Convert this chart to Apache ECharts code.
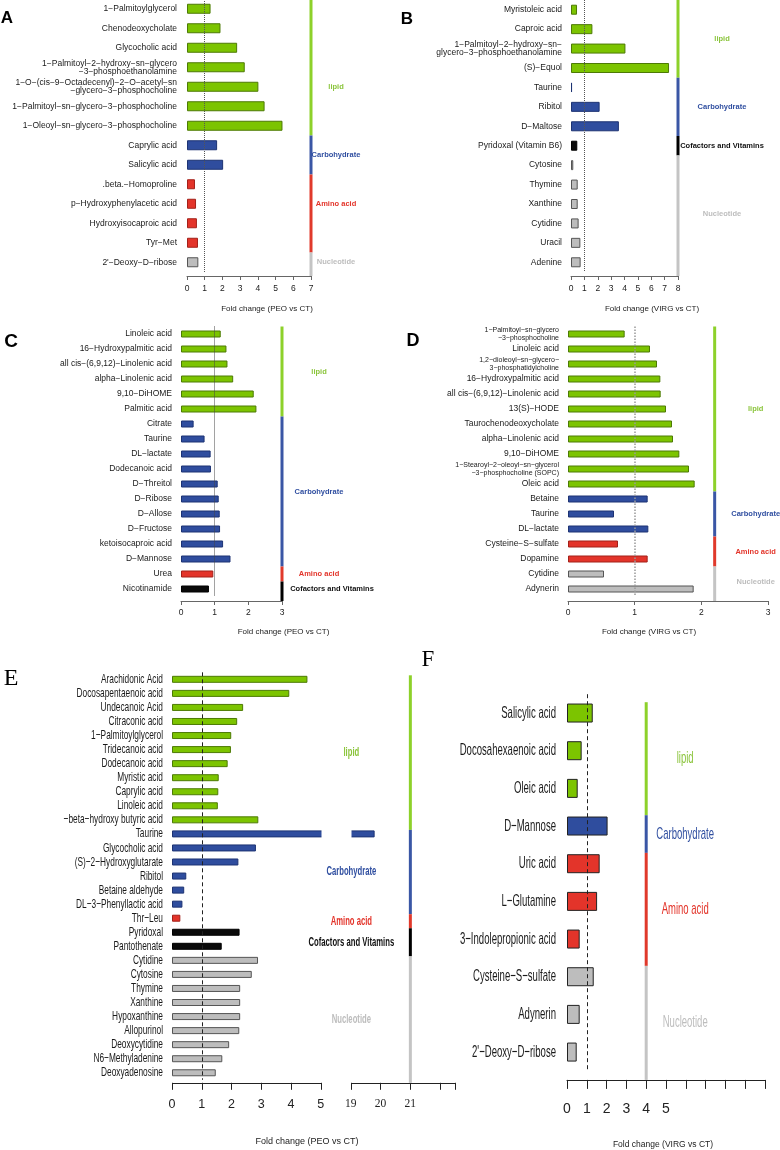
<!DOCTYPE html>
<html>
<head>
<meta charset="utf-8">
<script src="https://cdn.jsdelivr.net/npm/echarts@6/dist/echarts.min.js"></script>
<style>
  html, body { margin: 0; padding: 0; background: #fff; }
  #chart { width: 780px; height: 1150px; }
</style>
</head>
<body>
<div id="chart"></div>
<script>
const SANS = '"Liberation Sans", Arial, sans-serif'
const SERIF = '"Liberation Serif", "Times New Roman", serif'

// ---- data (fold change values) ----
const catA = ['1−Palmitoylglycerol', 'Chenodeoxycholate', 'Glycocholic acid',
  '1−Palmitoyl−2−hydroxy−sn−glycero\n−3−phosphoethanolamine',
  '1−O−(cis−9−Octadecenyl)−2−O−acetyl−sn\n−glycero−3−phosphocholine',
  '1−Palmitoyl−sn−glycero−3−phosphocholine', '1−Oleoyl−sn−glycero−3−phosphocholine',
  'Caprylic acid', 'Salicylic acid', '.beta.−Homoproline', 'p−Hydroxyphenylacetic acid',
  'Hydroxyisocaproic acid', 'Tyr−Met', '2\'−Deoxy−D−ribose']
const valA = [1.33, 1.89, 2.83, 3.26, 4.03, 4.38, 5.39, 1.70, 2.04, 0.45, 0.51, 0.56, 0.62, 0.64]
const grpA = ['L', 'L', 'L', 'L', 'L', 'L', 'L', 'C', 'C', 'A', 'A', 'A', 'A', 'N']

const catB = ['Myristoleic acid', 'Caproic acid', '1−Palmitoyl−2−hydroxy−sn−\nglycero−3−phosphoethanolamine',
  '(S)−Equol', 'Taurine', 'Ribitol', 'D−Maltose', 'Pyridoxal (Vitamin B6)', 'Cytosine',
  'Thymine', 'Xanthine', 'Cytidine', 'Uracil', 'Adenine']
const valB = [0.45, 1.6, 4.07, 7.33, 0.08, 2.14, 3.58, 0.47, 0.17, 0.5, 0.5, 0.57, 0.7, 0.72]
const grpB = ['L', 'L', 'L', 'L', 'C', 'C', 'C', 'V', 'N', 'N', 'N', 'N', 'N', 'N']

const catC = ['Linoleic acid', '16−Hydroxypalmitic acid', 'all cis−(6,9,12)−Linolenic acid',
  'alpha−Linolenic acid', '9,10−DiHOME', 'Palmitic acid', 'Citrate', 'Taurine', 'DL−lactate',
  'Dodecanoic acid', 'D−Threitol', 'D−Ribose', 'D−Allose', 'D−Fructose', 'ketoisocaproic acid',
  'D−Mannose', 'Urea', 'Nicotinamide']
const valC = [1.18, 1.35, 1.38, 1.55, 2.16, 2.24, 0.375, 0.7, 0.88, 0.89, 1.09, 1.12, 1.15, 1.16, 1.25, 1.47, 0.96, 0.83]
const grpC = ['L', 'L', 'L', 'L', 'L', 'L', 'C', 'C', 'C', 'C', 'C', 'C', 'C', 'C', 'C', 'C', 'A', 'V']

const catD = ['1−Palmitoyl−sn−glycero\n−3−phosphocholine', 'Linoleic acid',
  '1,2−dioleoyl−sn−glycero−\n3−phosphatidylcholine', '16−Hydroxypalmitic acid',
  'all cis−(6,9,12)−Linolenic acid', '13(S)−HODE', 'Taurochenodeoxycholate', 'alpha−Linolenic acid',
  '9,10−DiHOME', '1−Stearoyl−2−oleoyl−sn−glycerol\n−3−phosphocholine (SOPC)', 'Oleic acid',
  'Betaine', 'Taurine', 'DL−lactate', 'Cysteine−S−sulfate', 'Dopamine', 'Cytidine', 'Adynerin']
const valD = [0.85, 1.23, 1.335, 1.385, 1.39, 1.47, 1.56, 1.575, 1.67, 1.815, 1.9, 1.195, 0.69, 1.205, 0.75, 1.195, 0.54, 1.885]
const grpD = ['L', 'L', 'L', 'L', 'L', 'L', 'L', 'L', 'L', 'L', 'L', 'C', 'C', 'C', 'A', 'A', 'N', 'N']

const catE = ['Arachidonic Acid', 'Docosapentaenoic acid', 'Undecanoic Acid', 'Citraconic acid',
  '1−Palmitoylglycerol', 'Tridecanoic acid', 'Dodecanoic acid', 'Myristic acid', 'Caprylic acid',
  'Linoleic acid', '−beta−hydroxy butyric acid', 'Taurine', 'Glycocholic acid',
  '(S)−2−Hydroxyglutarate', 'Ribitol', 'Betaine aldehyde', 'DL−3−Phenyllactic acid', 'Thr−Leu',
  'Pyridoxal', 'Pantothenate', 'Cytidine', 'Cytosine', 'Thymine', 'Xanthine', 'Hypoxanthine',
  'Allopurinol', 'Deoxycytidine', 'N6−Methyladenine', 'Deoxyadenosine']
const valE = [4.55, 3.94, 2.39, 2.19, 1.99, 1.98, 1.87, 1.57, 1.555, 1.54, 2.9, 19.8, 2.82, 2.23,
  0.48, 0.41, 0.35, 0.28, 2.27, 1.67, 2.89, 2.68, 2.29, 2.29, 2.29, 2.26, 1.92, 1.69, 1.47]
const grpE = ['L', 'L', 'L', 'L', 'L', 'L', 'L', 'L', 'L', 'L', 'L', 'C', 'C', 'C', 'C', 'C', 'C',
  'A', 'V', 'V', 'N', 'N', 'N', 'N', 'N', 'N', 'N', 'N', 'N']

const catF = ['Salicylic acid', 'Docosahexaenoic acid', 'Oleic acid', 'D−Mannose', 'Uric acid',
  'L−Glutamine', '3−Indolepropionic acid', 'Cysteine−S−sulfate', 'Adynerin', '2\'−Deoxy−D−ribose']
const valF = [1.3, 0.74, 0.54, 2.05, 1.65, 1.52, 0.64, 1.35, 0.64, 0.49]
const grpF = ['L', 'L', 'L', 'C', 'A', 'A', 'A', 'N', 'N', 'N']

// class colours
const GC = {
  L: { name: 'lipid', bar: '#7cc400', edge: '#4d7a05', line: '#8dd12a', text: '#8ac43a' },
  C: { name: 'Carbohydrate', bar: '#2f4d9e', edge: '#1d3373', line: '#3a56a5', text: '#2f4ea0' },
  A: { name: 'Amino acid', bar: '#e3342a', edge: '#a32019', line: '#e0392b', text: '#e3342a' },
  V: { name: 'Cofactors and Vitamins', bar: '#0a0a0a', edge: '#000', line: '#000', text: '#111' },
  N: { name: 'Nucleotide', bar: '#bdbdbd', edge: '#555', line: '#c4c4c4', text: '#bdbdbd' }
}

const small = { s: { fontSize: 7, lineHeight: 8, fontFamily: SANS, color: '#1a1a1a' } }

// E and F use tall condensed lettering: drawn as horizontally squeezed text (sx)
const panels = [
  { cats: catA, vals: valA, grps: grpA, title: 'Fold change (PEO vs CT)',
    grid: [187, -1, 124, 273], max: 7, gx: 7, barW: 10, off: 4,
    tick: { size: 8.5, len: 4, margin: 8, color: '#666' },
    cat: { size: 8.5, lh: 8, margin: 10 },
    ref: { type: 'dotted', color: '#555', width: 1 },
    grpFont: 'bold 7.5px ' + SANS, labelDx: 25, shift: 0, labelRow: { L: 4, A: 10 },
    name: { gap: 29, pad: [0, 0, 0, 36], size: 8 } },
  { cats: catB, vals: valB, grps: grpB, title: 'Fold change (VIRG vs CT)',
    grid: [571, 0, 107, 272], max: 8, gx: 8, barW: 10, off: 4,
    tick: { size: 8.5, len: 4, margin: 8, color: '#666' },
    cat: { size: 8.5, lh: 8, margin: 9 },
    ref: { type: 'dotted', color: '#555', width: 1 },
    grpFont: 'bold 7.5px ' + SANS, labelDx: 44, shift: 0,
    name: { gap: 29, pad: [0, 0, 0, 55], size: 8 } },
  { cats: catC, vals: valC, grps: grpC, title: 'Fold change (PEO vs CT)',
    grid: [181, 326.5, 101, 270], max: 3, gx: 3, barW: 7, off: 4.5,
    tick: { size: 8.5, len: 4, margin: 7, color: '#666' },
    cat: { size: 8.5, lh: 8, margin: 9 },
    ref: { type: 'dotted', color: '#444', width: 1 },
    grpFont: 'bold 7.5px ' + SANS, labelDx: 37, labelDxFor: { V: 50 }, shift: 0,
    name: { gap: 27, pad: [0, 0, 0, 104], size: 8 } },
  { cats: catD, vals: valD, grps: grpD, title: 'Fold change (VIRG vs CT)',
    grid: [568, 326.5, 200, 270], max: 3, gx: 2.2, barW: 7, off: 4.5,
    tick: { size: 8.5, len: 4, margin: 7, color: '#666' },
    cat: { size: 8.5, lh: 8, margin: 9, rich: true },
    ref: { type: 'dotted', color: '#999', width: 1.5 },
    grpFont: 'bold 7.5px ' + SANS, labelDx: 41, shift: 0,
    name: { gap: 27, pad: [0, 38, 0, 0], size: 8 } },
  { cats: catE, vals: valE, grps: grpE, title: 'Fold change (PEO vs CT)',
    grid: [172, 672.3, 283, 407.5], max: 22.5, gx: 21, barW: 7, off: 3,
    tick: { size: 12.5, len: 7, margin: 15, color: '#222',
      show: v => v <= 5 ? String(v) : (v >= 19 && v <= 21 ? '{s|' + v + '}' : '') },
    cat: { squeeze: true, font: '13px ' + SANS, sx: 0.64, margin: 9 },
    ref: { type: [4, 3], color: '#222', width: 1 },
    grpFont: 'bold 12px ' + SANS, grpSx: 0.64, labelDx: -59, shift: 3,
    breaks: [{ start: 5, end: 19, gap: '10.6%' }],
    name: { gap: 54, pad: [0, 13, 0, 0], size: 9 } },
  { cats: catF, vals: valF, grps: grpF, title: 'Fold change (VIRG vs CT)',
    grid: [567, 694.2, 198, 376.7], max: 10, gx: 4, barW: 19, off: 9, edge: '#222',
    tick: { size: 14, len: 9, margin: 22, color: '#222',
      show: v => v <= 5 ? String(v) : '' },
    cat: { squeeze: true, font: '16.5px ' + SANS, sx: 0.58, margin: 11 },
    ref: { type: [4, 3], color: '#222', width: 1 },
    grpFont: '17px ' + SANS, grpSx: 0.56, labelDx: 39, shift: 8,
    name: { gap: 60, pad: [0, 6, 0, 0], size: 8.5 } }
]

function groupSpans(grps) {
  const spans = []
  grps.forEach((g, i) => {
    const last = spans[spans.length - 1]
    if (last && last.g === g) last.to = i
    else spans.push({ g: g, from: i, to: i })
  })
  return spans
}

const grid = [], xAxis = [], yAxis = [], series = []

panels.forEach((p, i) => {
  grid.push({ left: p.grid[0], top: p.grid[1], width: p.grid[2], height: p.grid[3],
    containLabel: false, outerBoundsMode: 'none' })

  const xa = {
    gridIndex: i, type: 'value', min: 0, max: p.max, interval: 1, offset: p.off,
    splitLine: { show: false },
    axisLine: { show: true, lineStyle: { color: p.tick.color, width: 1 } },
    axisTick: { show: true, length: p.tick.len, lineStyle: { color: p.tick.color } },
    axisLabel: { margin: p.tick.margin, fontFamily: SANS, fontSize: p.tick.size, color: '#222',
      formatter: p.tick.show || (v => String(v)),
      rich: { s: { fontFamily: SERIF, fontSize: 11.5, color: '#222' } } },
    name: p.title, nameLocation: 'middle', nameGap: p.name.gap,
    nameTextStyle: { fontFamily: SANS, fontSize: p.name.size, color: '#222', padding: p.name.pad }
  }
  if (p.breaks) {
    xa.breaks = p.breaks
    xa.breakArea = { show: true, itemStyle: { color: '#fff', borderColor: '#fff', borderWidth: 0, opacity: 1 },
      zigzagAmplitude: 0 }
  }
  xAxis.push(xa)

  yAxis.push({
    gridIndex: i, type: 'category', inverse: true, data: p.cats,
    axisLine: { show: false }, axisTick: { show: false }, splitLine: { show: false },
    axisLabel: {
      show: !p.cat.squeeze,
      interval: 0, margin: p.cat.margin, fontFamily: SANS, fontSize: p.cat.size,
      lineHeight: p.cat.lh, color: '#1a1a1a',
      formatter: p.cat.rich
        ? (v => v.indexOf('\n') >= 0 ? v.split('\n').map(s => '{s|' + s + '}').join('\n') : v)
        : (v => v),
      rich: small
    }
  })

  series.push({
    type: 'bar', xAxisIndex: i, yAxisIndex: i, barWidth: p.barW, animation: false, silent: true,
    data: p.vals.map((v, k) => ({
      value: v,
      itemStyle: { color: GC[p.grps[k]].bar, borderColor: p.edge || GC[p.grps[k]].edge, borderWidth: 1 }
    })),
    markLine: {
      silent: true, symbol: 'none', label: { show: false }, animation: false,
      lineStyle: { type: p.ref.type, color: p.ref.color, width: p.ref.width },
      data: [{ xAxis: 1 }]
    }
  })

  // condensed category labels placed on the category axis positions
  if (p.cat.squeeze) {
    series.push({
      type: 'custom', xAxisIndex: i, yAxisIndex: i, clip: false, silent: true, animation: false, z: 300,
      data: p.cats.map((c, k) => [0, k]),
      renderItem: (params, api) => {
        const pt = api.coord([0, api.value(1)])
        return {
          type: 'text', x: pt[0] - p.cat.margin, y: pt[1], scaleX: p.cat.sx,
          style: { text: p.cats[params.dataIndex], font: p.cat.font, fill: '#1a1a1a',
            align: 'right', verticalAlign: 'middle' }
        }
      }
    })
  }

  const spans = groupSpans(p.grps)
  series.push({
    type: 'custom', xAxisIndex: i, yAxisIndex: i, clip: false, silent: true, animation: false, z: 300,
    data: spans.map(s => [p.gx, s.from, s.to]),
    renderItem: (params, api) => {
      const s = spans[params.dataIndex]
      const cs = params.coordSys
      const band = api.size([0, 1])[1]
      const a = api.coord([p.gx, s.from])
      const b = api.coord([p.gx, s.to])
      const y0 = a[1] - band / 2 + p.shift
      let y1 = b[1] + band / 2 + p.shift
      if (params.dataIndex === spans.length - 1) y1 = cs.y + cs.height + p.off
      let ly = (a[1] + b[1]) / 2 + p.shift
      if (p.labelRow && p.labelRow[s.g] != null) ly = api.coord([p.gx, p.labelRow[s.g]])[1]
      const dx = (p.labelDxFor && p.labelDxFor[s.g] != null) ? p.labelDxFor[s.g] : p.labelDx
      const c = GC[s.g]
      return {
        type: 'group',
        children: [
          { type: 'rect', shape: { x: a[0] - 1.5, y: y0, width: 3, height: y1 - y0 }, style: { fill: c.line } },
          { type: 'text', x: a[0] + dx, y: ly, scaleX: p.grpSx || 1,
            style: { text: c.name, fill: c.text, font: p.grpFont, align: 'center', verticalAlign: 'middle' } }
        ]
      }
    }
  })
})

const letters = [
  ['A', 7, 18, 'bold 17px ' + SANS], ['B', 407, 19, 'bold 17px ' + SANS],
  ['C', 11, 342, 'bold 19px ' + SANS], ['D', 413, 341, 'bold 18px ' + SANS],
  ['E', 11, 679, '24px ' + SERIF], ['F', 428, 660, '23px ' + SERIF]
]

const chart = echarts.init(document.getElementById('chart'), null, { renderer: 'canvas' })
chart.setOption({
  backgroundColor: '#fff',
  animation: false,
  textStyle: { fontFamily: SANS },
  grid: grid,
  xAxis: xAxis,
  yAxis: yAxis,
  series: series,
  graphic: letters.map(l => ({
    type: 'text', x: l[1], y: l[2], silent: true,
    style: { text: l[0], font: l[3], fill: '#000', align: 'center', verticalAlign: 'middle' }
  }))
})
</script>
</body>
</html>
